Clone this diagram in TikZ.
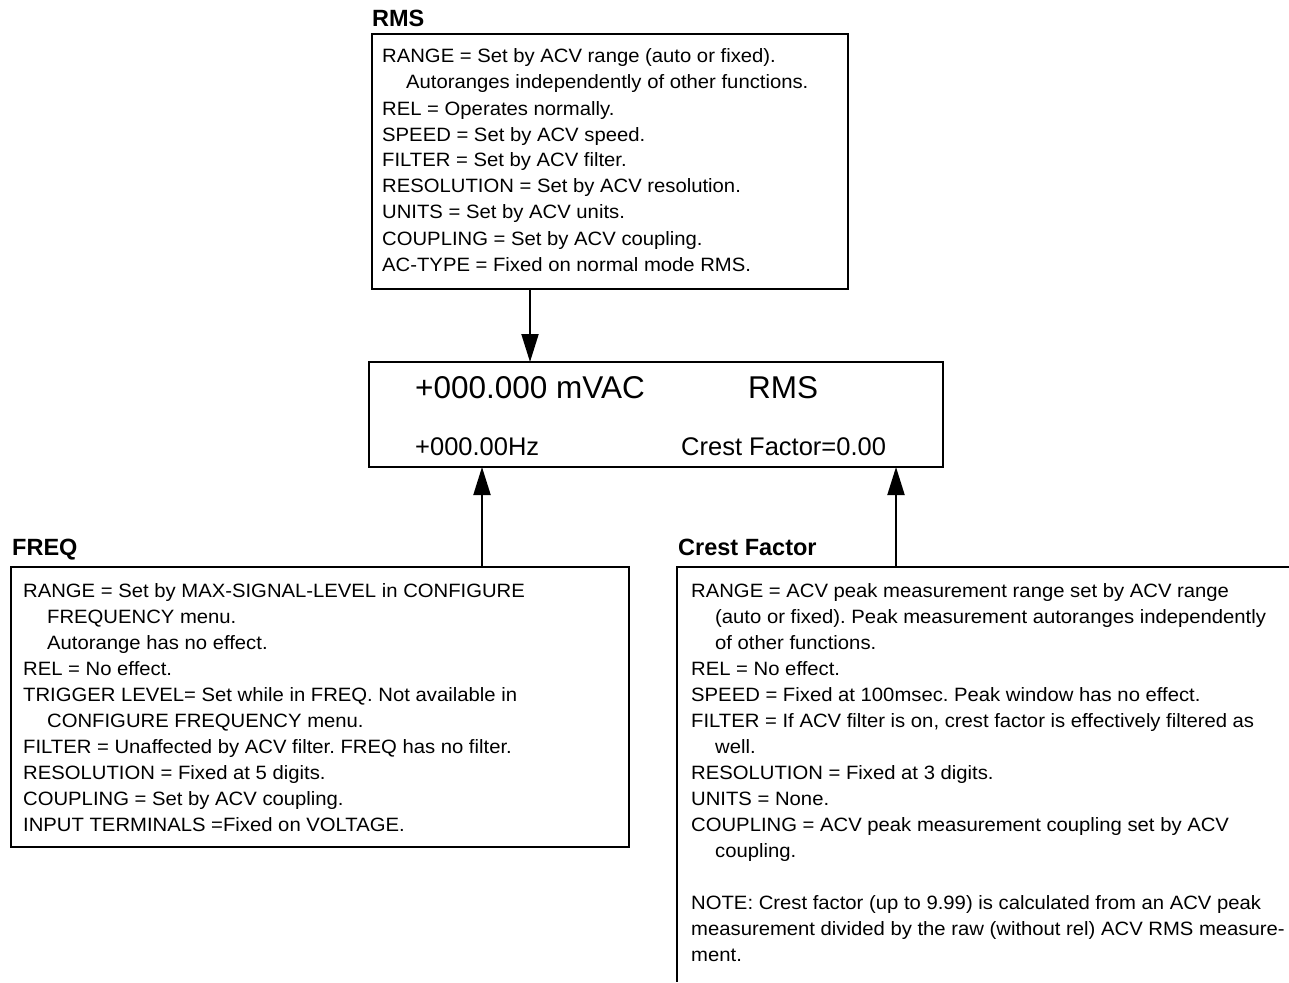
\documentclass[tikz,border=0pt]{standalone}
\usepackage{fontspec}
\setmainfont{Liberation Sans}
\newfontfamily\bodyfont{Liberation Sans}[FakeStretch=1.05]
\usetikzlibrary{arrows.meta}
\frenchspacing
\newcommand\tl[1]{\hbox{#1}}
\newcommand\ti[1]{\hbox{\hspace*{24pt}#1}}
\begin{document}
\begin{tikzpicture}[x=1pt,y=-1pt,
  frame/.style={draw, line width=2pt, inner sep=0pt, outer sep=0pt},
  body/.style={anchor=base west, inner sep=0pt, font=\bodyfont\frenchspacing\fontsize{19.3}{26}\selectfont},
  title/.style={anchor=base west, inner sep=0pt, font=\fontsize{23.5}{28}\selectfont\bfseries},
  big/.style={anchor=base west, inner sep=0pt, font=\fontsize{31.5}{36}\selectfont},
  mid/.style={anchor=base west, inner sep=0pt, font=\fontsize{25.5}{30}\selectfont},
  arr/.style={line width=2pt, -{Triangle[width=17pt,length=28pt]}}]
\useasboundingbox (0,0) rectangle (1289,982);

% RMS
\node[title] (rmstitle) at (372,27) {RMS};
\node[frame, minimum width=476pt, minimum height=255pt] (rmsbox) at (610,161.5) {};
\node[body] (rmstext) at (382,63) {\vtop{%
\tl{RANGE = Set by ACV range (auto or fixed).}
\ti{Autoranges independently of other functions.}
\tl{REL = Operates normally.}
\tl{SPEED = Set by ACV speed.}
\tl{FILTER = Set by ACV filter.}
\tl{RESOLUTION = Set by ACV resolution.}
\tl{UNITS = Set by ACV units.}
\tl{COUPLING = Set by ACV coupling.}
\tl{AC-TYPE = Fixed on normal mode RMS.}}};

% Display
\node[frame, minimum width=574pt, minimum height=105pt] (disp) at (656,414.5) {};
\node[big] (d1) at (415,398) {+000.000 mVAC};
\node[big] (d2) at (748,398) {RMS};
\node[mid] (d3) at (415,455) {+000.00Hz};
\node[mid] (d4) at (681,455) {Crest Factor=0.00};

% FREQ
\node[title] (freqtitle) at (12,555) {FREQ};
\node[frame, minimum width=618pt, minimum height=280pt] (freqbox) at (320,707) {};
\node[body] (freqtext) at (23,597) {\vtop{%
\tl{RANGE = Set by MAX-SIGNAL-LEVEL in CONFIGURE}
\ti{FREQUENCY menu.}
\ti{Autorange has no effect.}
\tl{REL = No effect.}
\tl{TRIGGER LEVEL= Set while in FREQ. Not available in}
\ti{CONFIGURE FREQUENCY menu.}
\tl{FILTER = Unaffected by ACV filter. FREQ has no filter.}
\tl{RESOLUTION = Fixed at 5 digits.}
\tl{COUPLING = Set by ACV coupling.}
\tl{INPUT TERMINALS =Fixed on VOLTAGE.}}};

% Crest Factor
\node[title] (cresttitle) at (678,555) {Crest Factor};
\coordinate (crestcorner) at (677,567);
\coordinate (crestright) at (1289,567);
\coordinate (crestbottom) at (677,982);
\draw[line width=2pt] (crestright) -- (crestcorner) -- (crestbottom);
\node[body] (cresttext) at (691,597) {\vtop{%
\tl{RANGE = ACV peak measurement range set by ACV range}
\ti{(auto or fixed). Peak measurement autoranges independently}
\ti{of other functions.}
\tl{REL = No effect.}
\tl{SPEED = Fixed at 100msec. Peak window has no effect.}
\tl{FILTER = If ACV filter is on, crest factor is effectively filtered as}
\ti{well.}
\tl{RESOLUTION = Fixed at 3 digits.}
\tl{UNITS = None.}
\tl{COUPLING = ACV peak measurement coupling set by ACV}
\ti{coupling.}
\hbox{}
\tl{NOTE: Crest factor (up to 9.99) is calculated from an ACV peak}
\tl{measurement divided by the raw (without rel) ACV RMS measure-}
\tl{ment.}}};

% connectors
\coordinate (xa) at (530,0);
\coordinate (xb) at (482,0);
\coordinate (xc) at (896,0);
\draw[arr] (rmsbox.south -| xa) -- (disp.north -| xa);
\draw[arr] (freqbox.north -| xb) -- (disp.south -| xb);
\draw[arr] (crestcorner -| xc) -- (disp.south -| xc);
\end{tikzpicture}
\end{document}
